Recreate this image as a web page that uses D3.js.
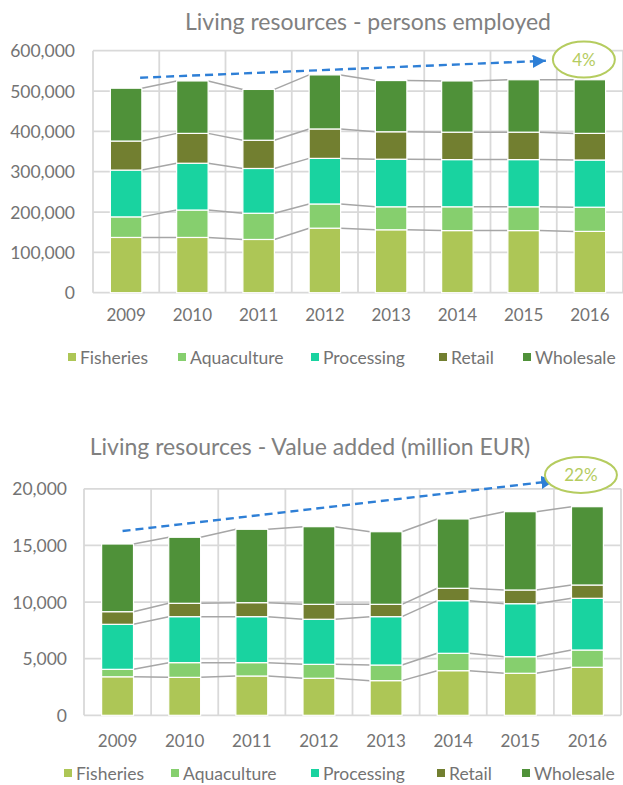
<!DOCTYPE html>
<html>
<head>
<meta charset="utf-8">
<script src="https://cdn.jsdelivr.net/npm/d3@7"></script>
<style>
  body { margin: 0; background: #fff; }
  text { font-family: Lato, "Open Sans", sans-serif; }
</style>
</head>
<body>
<svg id="chart" width="623" height="785"></svg>
<script>
// shared
const years = ["2009", "2010", "2011", "2012", "2013", "2014", "2015", "2016"];
const seriesNames = ["Fisheries", "Aquaculture", "Processing", "Retail", "Wholesale"];
const seriesColors = ["#adc656", "#86cf6e", "#19d3a0", "#727f30", "#4f9139"];

// persons employed
const empFisheries   = [137000, 137000, 132000, 160000, 156000, 154000, 154000, 152000];
const empAquaculture = [51000, 68000, 65000, 60000, 57000, 59000, 59000, 60000];
const empProcessing  = [116000, 116000, 111000, 113000, 118000, 117000, 117000, 117000];
const empRetail      = [72000, 74000, 70000, 73000, 68000, 68000, 68000, 66000];
const empWholesale   = [131000, 130000, 126000, 134000, 127000, 127000, 130000, 133000];
const empTicks = [0, 100000, 200000, 300000, 400000, 500000, 600000];

// value added (million EUR)
const vaFisheries   = [3400, 3350, 3470, 3270, 3060, 3940, 3710, 4240];
const vaAquaculture = [660, 1300, 1180, 1230, 1380, 1535, 1465, 1525];
const vaProcessing  = [3975, 4060, 4060, 3980, 4270, 4645, 4680, 4565];
const vaRetail      = [1115, 1180, 1235, 1320, 1090, 1095, 1210, 1175];
const vaWholesale   = [5975, 5830, 6480, 6855, 6410, 6120, 6915, 6915];
const vaTicks = [0, 5000, 10000, 15000, 20000];

const svg = d3.select("#chart");

const defs = svg.append("defs");
defs.append("marker")
    .attr("id", "arrowhead")
    .attr("viewBox", "0 0 10 10")
    .attr("refX", 10).attr("refY", 5)
    .attr("markerWidth", 5.5).attr("markerHeight", 5.5)
    .attr("markerUnits", "strokeWidth")
    .attr("orient", "auto")
  .append("path")
    .attr("d", "M0,0 L10,5 L0,10 Z")
    .attr("fill", "#2e7fd6");

function drawChart(cfg) {
    const g = svg.append("g");

    const rows = years.map((yr, i) => {
        const r = { year: yr };
        seriesNames.forEach((s, k) => r[s] = cfg.series[k][i]);
        return r;
    });
    const stacked = d3.stack().keys(seriesNames)(rows);

    const x = d3.scaleBand()
        .domain(years)
        .range([cfg.left, cfg.right])
        .paddingInner(0.525)
        .paddingOuter(0.2625);
    const step = x.step();
    const y = d3.scaleLinear()
        .domain([0, d3.max(cfg.ticks)])
        .range([cfg.bottom, cfg.top]);

    // title
    g.append("text")
        .attr("x", cfg.titleX)
        .attr("y", cfg.titleY)
        .attr("text-anchor", "middle")
        .attr("dominant-baseline", "central")
        .attr("fill", "#808080")
        .style("font-size", "23px")
        .text(cfg.title);

    // gridlines
    g.selectAll(".hgrid")
        .data(cfg.ticks)
        .enter()
        .append("line")
        .attr("x1", cfg.left).attr("x2", cfg.right)
        .attr("y1", d => y(d)).attr("y2", d => y(d))
        .attr("stroke", "#d9d9d9")
        .attr("stroke-width", 1.8);

    g.selectAll(".vgrid")
        .data(d3.range(years.length + 1))
        .enter()
        .append("line")
        .attr("x1", i => cfg.left + i * step).attr("x2", i => cfg.left + i * step)
        .attr("y1", cfg.top).attr("y2", cfg.bottom)
        .attr("stroke", "#d9d9d9")
        .attr("stroke-width", 1.8);

    // y tick labels
    g.selectAll(".ytick")
        .data(cfg.ticks)
        .enter()
        .append("text")
        .attr("x", cfg.labelRight)
        .attr("y", d => y(d))
        .attr("text-anchor", "end")
        .attr("dominant-baseline", "central")
        .attr("fill", "#737373")
        .style("font-size", "17.5px")
        .text(d => d3.format(",")(d));

    // x tick labels
    g.selectAll(".xtick")
        .data(years)
        .enter()
        .append("text")
        .attr("x", d => x(d) + x.bandwidth() / 2)
        .attr("y", cfg.xLabelY)
        .attr("text-anchor", "middle")
        .attr("dominant-baseline", "central")
        .attr("fill", "#737373")
        .style("font-size", "17px")
        .text(d => d);

    // series lines between the bars
    stacked.forEach(layer => {
        for (let i = 0; i < years.length - 1; i++) {
            g.append("line")
                .attr("x1", x(years[i]) + x.bandwidth())
                .attr("y1", y(layer[i][1]))
                .attr("x2", x(years[i + 1]))
                .attr("y2", y(layer[i + 1][1]))
                .attr("stroke", "#a6a6a6")
                .attr("stroke-width", 1.5);
        }
    });

    // bars
    g.selectAll(".layer")
        .data(stacked)
        .enter()
        .append("g")
        .attr("fill", (d, k) => seriesColors[k])
        .selectAll("rect")
        .data(d => d)
        .enter()
        .append("rect")
        .attr("x", d => x(d.data.year))
        .attr("y", d => y(d[1]))
        .attr("width", x.bandwidth())
        .attr("height", d => y(d[0]) - y(d[1]))
        .attr("stroke", "#fff")
        .attr("stroke-width", 1.2);

    // trend arrow
    const xPos = (i, off) => x(years[i]) + x.bandwidth() / 2 + off;
    g.append("line")
        .attr("x1", xPos(0, cfg.arrow.x0))
        .attr("y1", y(cfg.arrow.v0))
        .attr("x2", xPos(years.length - 1, cfg.arrow.x1))
        .attr("y2", y(cfg.arrow.v1))
        .attr("stroke", "#2e7fd6")
        .attr("stroke-width", 2.4)
        .attr("stroke-dasharray", "8,5")
        .attr("marker-end", "url(#arrowhead)");

    // growth bubble
    g.append("ellipse")
        .attr("cx", xPos(years.length - 1, cfg.bubble.dx))
        .attr("cy", y(cfg.bubble.v))
        .attr("rx", cfg.bubble.rx)
        .attr("ry", 18)
        .attr("fill", "#fff")
        .attr("stroke", "#b5cc5f")
        .attr("stroke-width", 2);
    g.append("text")
        .attr("x", xPos(years.length - 1, cfg.bubble.dx))
        .attr("y", y(cfg.bubble.v))
        .attr("text-anchor", "middle")
        .attr("dominant-baseline", "central")
        .attr("fill", "#b5cc5f")
        .style("font-size", "17px")
        .text(cfg.bubble.label);

    // legend
    const legendX = cfg.legendX;
    const leg = g.selectAll(".legend")
        .data(seriesNames)
        .enter()
        .append("g")
        .attr("transform", (d, k) => `translate(${legendX[k]},${cfg.legendY})`);
    leg.append("rect")
        .attr("x", 0).attr("y", -4)
        .attr("width", 8).attr("height", 8)
        .attr("fill", (d, k) => seriesColors[k]);
    leg.append("text")
        .attr("x", 12)
        .attr("y", 0)
        .attr("dominant-baseline", "central")
        .attr("fill", "#737373")
        .style("font-size", "17.5px")
        .text(d => d);
}

drawChart({
    title: "Living resources - persons employed",
    titleX: 368, titleY: 21,
    series: [empFisheries, empAquaculture, empProcessing, empRetail, empWholesale],
    ticks: empTicks,
    left: 93, right: 623, top: 50.7, bottom: 292.7,
    labelRight: 75, xLabelY: 314,
    arrow: { x0: 14, v0: 533000, x1: -44, v1: 575000 },
    bubble: { dx: -6, v: 578000, rx: 31, label: "4%" },
    legendX: [68, 178, 311, 439, 523], legendY: 357
});

drawChart({
    title: "Living resources - Value added (million EUR)",
    titleX: 310, titleY: 446,
    series: [vaFisheries, vaAquaculture, vaProcessing, vaRetail, vaWholesale],
    ticks: vaTicks,
    left: 84, right: 621, top: 488.8, bottom: 715.3,
    labelRight: 67, xLabelY: 740,
    arrow: { x0: 5, v0: 16270, x1: -33, v1: 20700 },
    bubble: { dx: -6.5, v: 21220, rx: 36, label: "22%" },
    legendX: [64, 171, 311, 437, 522], legendY: 773
});
</script>
</body>
</html>
